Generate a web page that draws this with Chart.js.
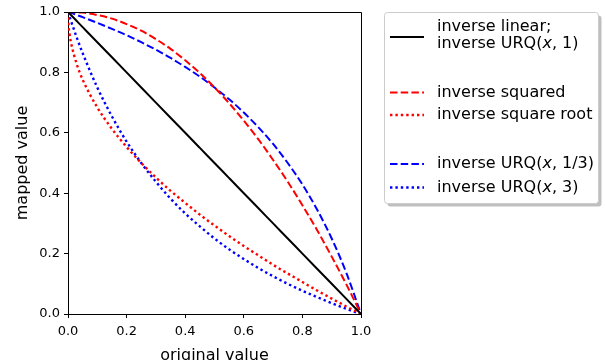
<!DOCTYPE html>
<html>
<head>
<meta charset="utf-8">
<script src="https://cdn.jsdelivr.net/npm/chart.js@4"></script>
<style>
  html, body { margin: 0; padding: 0; background: #fff; }
</style>
</head>
<body>
<canvas id="grafico" width="605" height="360"></canvas>
<script>
// valores
const xs = [0, 0.002, 0.005, 0.01, 0.03, 0.05, 0.1, 0.15, 0.2, 0.25, 0.3, 0.35, 0.4, 0.45, 0.5, 0.55, 0.6, 0.65, 0.7, 0.75, 0.8, 0.85, 0.9, 0.95, 1];
const inverseLinear = [1, 0.998, 0.995, 0.99, 0.97, 0.95, 0.9, 0.85, 0.8, 0.75, 0.7, 0.65, 0.6, 0.55, 0.5, 0.45, 0.4, 0.35, 0.3, 0.25, 0.2, 0.15, 0.1, 0.05, 0];
const inverseSquared = [1, 1, 1, 1, 0.999, 0.998, 0.99, 0.978, 0.96, 0.938, 0.91, 0.878, 0.84, 0.798, 0.75, 0.698, 0.64, 0.578, 0.51, 0.438, 0.36, 0.278, 0.19, 0.098, 0];
const inverseSqrt = [1, 0.955, 0.929, 0.9, 0.827, 0.776, 0.684, 0.613, 0.553, 0.5, 0.452, 0.408, 0.368, 0.329, 0.293, 0.258, 0.225, 0.194, 0.163, 0.134, 0.106, 0.078, 0.051, 0.025, 0];
const inverseUrqThird = [1, 0.999, 0.998, 0.997, 0.99, 0.983, 0.964, 0.944, 0.923, 0.9, 0.875, 0.848, 0.818, 0.786, 0.75, 0.711, 0.667, 0.618, 0.563, 0.5, 0.429, 0.346, 0.25, 0.136, 0];
const inverseUrqThree = [1, 0.994, 0.985, 0.971, 0.915, 0.864, 0.75, 0.654, 0.571, 0.5, 0.438, 0.382, 0.333, 0.29, 0.25, 0.214, 0.182, 0.152, 0.125, 0.1, 0.077, 0.056, 0.036, 0.017, 0];
const xTicks = [0, 0.2, 0.4, 0.6, 0.8, 1.0];

const FONTE = "'DejaVu Sans', sans-serif";
const TRACO = [7.5, 3.2];
const PONTO = [2.4, 3];

const pontos = arr => xs.map((x, i) => ({ x: x, y: arr[i] }));

const serie = (label, arr, cor, dash, largura) => ({
  label: label,
  data: pontos(arr),
  borderColor: cor,
  borderWidth: largura,
  borderDash: dash,
  pointRadius: 0,
  fill: false,
  cubicInterpolationMode: 'monotone'
});

// moldura (eixos de cima e da direita)
const pluginMoldura = {
  id: 'pluginMoldura',
  afterDraw(chart) {
    const { ctx, chartArea: a } = chart;
    ctx.save();
    ctx.strokeStyle = '#000';
    ctx.lineWidth = 1;
    ctx.beginPath();
    ctx.moveTo(a.left, a.top + 0.5);
    ctx.lineTo(a.right + 0.5, a.top + 0.5);
    ctx.lineTo(a.right + 0.5, a.bottom);
    ctx.stroke();
    ctx.restore();
  }
};

const itensLegenda = [
  { cor: '#000', dash: [], w: 2, y: 37, linhas: [[['inverse linear;', 0]], [['inverse URQ(', 0], ['x', 1], [', 1)', 0]]] },
  { cor: 'red', dash: TRACO, w: 2, y: 92.5, linhas: [[['inverse squared', 0]]] },
  { cor: 'red', dash: PONTO, w: 2.4, y: 115, linhas: [[['inverse square root', 0]]] },
  { cor: 'blue', dash: TRACO, w: 2, y: 164, linhas: [[['inverse URQ(', 0], ['x', 1], [', 1/3)', 0]]] },
  { cor: 'blue', dash: PONTO, w: 2.4, y: 187.5, linhas: [[['inverse URQ(', 0], ['x', 1], [', 3)', 0]]] }
];

// legenda desenhada à mão (duas linhas no primeiro item, espaços entre grupos)
const pluginLegenda = {
  id: 'pluginLegenda',
  afterDraw(chart) {
    const ctx = chart.ctx;
    const bx = 384.5, by = 12.5, bw = 214, bh = 191, r = 3;

    const caixa = (x, y) => {
      ctx.beginPath();
      ctx.moveTo(x + r, y);
      ctx.arcTo(x + bw, y, x + bw, y + bh, r);
      ctx.arcTo(x + bw, y + bh, x, y + bh, r);
      ctx.arcTo(x, y + bh, x, y, r);
      ctx.arcTo(x, y, x + bw, y, r);
      ctx.closePath();
    };

    ctx.save();
    ctx.fillStyle = 'rgba(128,128,128,0.5)';
    caixa(bx + 3, by + 3);
    ctx.fill();
    ctx.fillStyle = '#fff';
    caixa(bx, by);
    ctx.fill();
    ctx.strokeStyle = '#cccccc';
    ctx.lineWidth = 1;
    ctx.stroke();

    itensLegenda.forEach(item => {
      ctx.strokeStyle = item.cor;
      ctx.lineWidth = item.w;
      ctx.setLineDash(item.dash);
      ctx.beginPath();
      ctx.moveTo(390, item.y);
      ctx.lineTo(424, item.y);
      ctx.stroke();
      ctx.setLineDash([]);

      ctx.fillStyle = '#000';
      ctx.textBaseline = 'middle';
      ctx.textAlign = 'left';
      const n = item.linhas.length;
      item.linhas.forEach((partes, k) => {
        const ty = n === 1 ? item.y : item.y - 10.5 + k * 17.5;
        let tx = 437;
        partes.forEach(([txt, italico]) => {
          ctx.font = (italico ? 'italic ' : '') + '16px ' + FONTE;
          ctx.fillText(txt, tx, ty);
          tx += ctx.measureText(txt).width;
        });
      });
    });
    ctx.restore();
  }
};

const eixo = (titulo, fit, tickPad, tituloPad) => ({
  type: 'linear',
  min: 0,
  max: 1,
  afterFit: fit,
  afterBuildTicks: s => { s.ticks = xTicks.map(v => ({ value: v })); },
  ticks: {
    color: '#000',
    font: { family: FONTE, size: 13 },
    padding: tickPad,
    callback: v => v.toFixed(1)
  },
  grid: { drawOnChartArea: false, drawTicks: true, tickLength: 4, color: '#000' },
  border: { display: true, color: '#000', width: 1 },
  title: {
    display: true,
    text: titulo,
    color: '#000',
    font: { family: FONTE, size: 16 },
    padding: tituloPad
  }
});

new Chart(document.getElementById('grafico').getContext('2d'), {
  type: 'line',
  data: {
    datasets: [
      serie('inverse linear; inverse URQ(x, 1)', inverseLinear, '#000', [], 2),
      serie('inverse squared', inverseSquared, 'red', TRACO, 2),
      serie('inverse square root', inverseSqrt, 'red', PONTO, 2.4),
      serie('inverse URQ(x, 1/3)', inverseUrqThird, 'blue', TRACO, 2),
      serie('inverse URQ(x, 3)', inverseUrqThree, 'blue', PONTO, 2.4)
    ]
  },
  options: {
    responsive: false,
    animation: false,
    devicePixelRatio: 1,
    layout: { padding: { top: 12, right: 244, left: 0, bottom: 0 } },
    plugins: {
      legend: { display: false },
      tooltip: { enabled: false }
    },
    scales: {
      x: eixo('original value', s => { s.height = 46; }, 6, { top: 0, bottom: -5 }),
      y: eixo('mapped value', s => { s.width = 68; }, 4, { top: 13, bottom: 0 })
    }
  },
  plugins: [pluginMoldura, pluginLegenda]
});
</script>
</body>
</html>
